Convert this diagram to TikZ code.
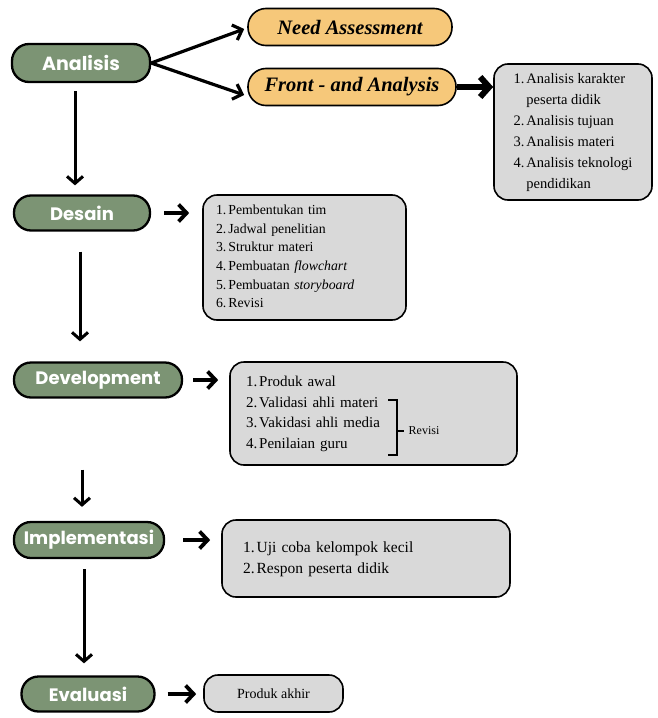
\documentclass[tikz,border=0pt]{standalone}
\usepackage{fontspec}
\setmainfont{Liberation Serif}
\newfontfamily\phasefont{Poppins}
\usetikzlibrary{arrows.meta,calc}

\definecolor{phasegreen}{RGB}{124,148,116}
\definecolor{subfill}{RGB}{246,200,122}
\definecolor{listgray}{RGB}{217,217,217}

\begin{document}
\begin{tikzpicture}[x=1pt,y=-1pt]
\tikzset{phase box/.style={ %
		draw=black,
		line width=2.3pt,
		fill=phasegreen,
		rounded corners=17pt,
		text=white,
		font=\phasefont\bfseries\fontsize{18}{20}\selectfont,
		inner sep=0pt,
		minimum height=35pt %
	},
	sub box/.style={ %
		draw=black,
		line width=1.6pt,
		fill=subfill,
		rounded corners=18pt,
		font=\bfseries\itshape\fontsize{20.5}{23}\selectfont,
		inner sep=0pt,
		minimum height=37pt %
	},
	list box/.style={ %
		draw=black,
		line width=1.6pt,
		fill=listgray,
		rounded corners=14pt,
		inner sep=0pt %
	},
	flow arrow/.style={ %
		line width=3pt,
		-{Straight Barb[length=7pt,width=16pt]} %
	},
	next arrow/.style={ %
		line width=3.8pt,
		-{Straight Barb[length=8pt,width=17pt]} %
	}
}
\useasboundingbox (0,0) rectangle (657,718);

\node[phase box,minimum width=138pt,minimum height=38pt,font=\phasefont\bfseries\fontsize{19}{21}\selectfont] (analisis) at (81,63) {Analisis};
\node[phase box,minimum width=136pt] (desain) at (82,213) {Desain};
\node[phase box,minimum width=168pt] (development) at (98,380) {Development};
\node[phase box,minimum width=150pt,minimum height=36pt] (implementasi) at (89,540) {Implementasi};
\node[phase box,minimum width=133pt] (evaluasi) at (88,694) {Evaluasi};

\node[sub box,minimum width=204pt] (need) at (350,27) {Need Assessment};
\node[sub box,minimum width=208pt] (front) at (352,87) {Front - and Analysis};

\node[list box,minimum width=158pt,minimum height=136pt,font=\fontsize{14.5}{21}\selectfont] (analisislist) at (573,132) {%
\begin{tabular}{@{}r@{\hspace{2pt}}l@{}}
1. & Analisis karakter\\
   & peserta didik\\
2. & Analisis tujuan\\
3. & Analisis materi\\
4. & Analisis teknologi\\
   & pendidikan
\end{tabular}};

\node[list box,inner xsep=13pt,text width=177pt,minimum height=125pt,font=\fontsize{13.8}{18.7}\selectfont] (desainlist) at (304.5,257.5) {%
\begin{tabular}{@{}r@{\hspace{2pt}}l@{}}
1. & Pembentukan tim\\
2. & Jadwal penelitian\\
3. & Struktur materi\\
4. & Pembuatan \textit{flowchart}\\
5. & Pembuatan \textit{storyboard}\\
6. & Revisi
\end{tabular}};

\node[list box,inner xsep=16pt,text width=255pt,minimum height=103pt,font=\fontsize{15}{20.5}\selectfont] (developmentlist) at (373.5,413.5) {%
\begin{tabular}{@{}r@{\hspace{2pt}}l@{}}
1. & Produk awal\\
2. & Validasi ahli materi\\
3. & Vakidasi ahli media\\
4. & Penilaian guru
\end{tabular}};

\node[list box,inner xsep=21pt,text width=246pt,minimum height=77pt,font=\fontsize{15.5}{21}\selectfont] (implementasilist) at (366,558.5) {%
\begin{tabular}{@{}r@{\hspace{2pt}}l@{}}
1. & Uji coba kelompok kecil\\
2. & Respon peserta didik
\end{tabular}};

\node[list box,minimum width=139pt,minimum height=37pt,font=\fontsize{14}{16}\selectfont] (evaluasilist) at (273.5,693.5) {Produk akhir};

% bracket for revisi
\draw[line width=1.3pt] (388,400) -- (397,400) -- (397,455) -- (388,455);
\draw[line width=1.1pt] (397,431) -- (404,431);
\node[font=\fontsize{12}{14}\selectfont] (revisi) at (424,431) {Revisi};

\draw[line width=3.2pt,-{Straight Barb[length=8pt,width=16pt]}] (analisis.east) -- ($(need.west)+(-3,2)$);
\draw[line width=3.2pt,-{Straight Barb[length=8pt,width=16pt]}] (analisis.east) -- ($(front.west)+(-3,8)$);
\draw[line width=6pt,-{Straight Barb[length=9pt,width=20pt]}] (front.east) -- (analisislist.west |- front.east);

\draw[flow arrow] ($(analisis.south)+(-6,8)$) -- ($(desain.north)+(-7,-9)$);
\draw[flow arrow] ($(desain.south)+(-2,20)$) -- ($(desain.south |- development.north)+(-2,-20)$);
\draw[flow arrow] ($(development.south)+(-16,71)$) -- ($(development.south |- implementasi.north)+(-16,-14)$);
\draw[flow arrow] ($(implementasi.south)+(-5,10)$) -- ($(implementasi.south |- evaluasi.north)+(-5,-12)$);

\draw[next arrow,shorten <=13pt,shorten >=13pt] (desain.east) -- (desainlist.west |- desain.east);
\draw[next arrow,shorten <=10pt,shorten >=11pt] (development.east) -- (developmentlist.west |- development.east);
\draw[next arrow,shorten <=18pt,shorten >=11pt] (implementasi.east) -- (implementasilist.west |- implementasi.east);
\draw[next arrow,shorten <=12pt,shorten >=7pt] (evaluasi.east) -- (evaluasilist.west |- evaluasi.east);
\end{tikzpicture}
\end{document}
